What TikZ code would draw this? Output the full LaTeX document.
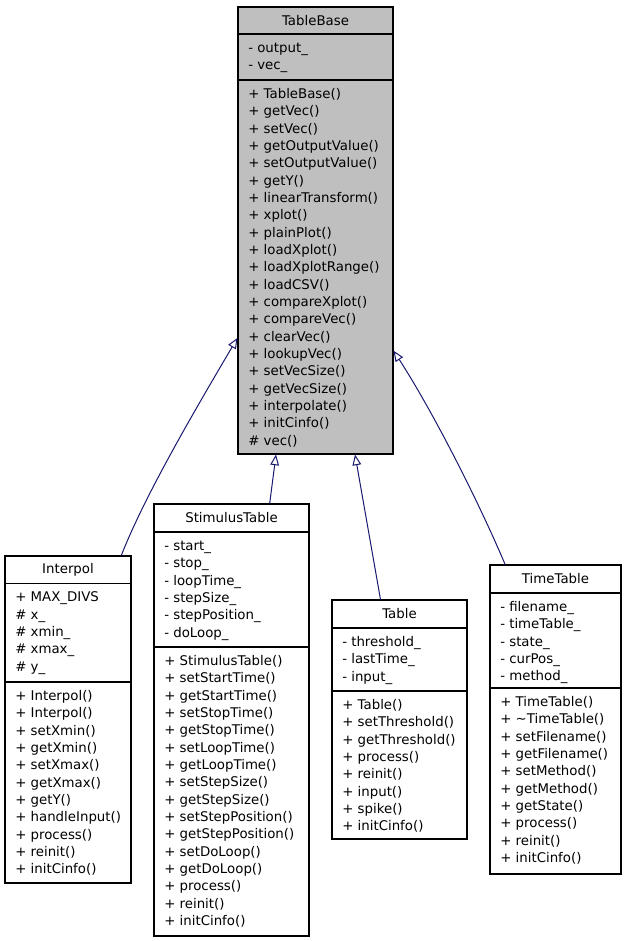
\documentclass[tikz,border=0pt]{standalone}
\usepackage{fontspec}
\setmainfont{DejaVu Sans}
\usetikzlibrary{arrows.meta,fit}

\definecolor{edgeblue}{HTML}{191970}
\definecolor{basegray}{HTML}{BFBFBF}

\tikzset{
  classbox/.style={draw=black, line width=0.8pt, inner sep=0pt},
  classname/.style={inner sep=0pt, font=\fontsize{10}{13}\selectfont},
  % member lists are placed by the baseline of their last line
  members/.style={anchor=base west, inner sep=0pt, align=left, font=\fontsize{10}{13}\selectfont},
  inherit/.style={draw=edgeblue, line width=0.75pt, -{Triangle[open,length=8pt,width=6.5pt]}},
}

\begin{document}
\begin{tikzpicture}[x=0.75pt,y=0.75pt,yscale=-1,xscale=1]
\useasboundingbox (0,0) rectangle (627,941);

% TableBase
\node[classbox, fill=basegray, fit={(238,7) (393,454)}] (tablebase) {};
\draw[line width=0.8pt] (238,34) -- (393,34);
\draw[line width=0.8pt] (238,80) -- (393,80);
\node[classname] (tablebaseName) at (315.5,20.5) {TableBase};
\node[members] (tablebaseAttr) at (248,69.8) {- output\_\\- vec\_};
\node[members] (tablebaseOps) at (248,445.2) {+ TableBase()\\+ getVec()\\+ setVec()\\+ getOutputValue()\\+ setOutputValue()\\+ getY()\\+ linearTransform()\\+ xplot()\\+ plainPlot()\\+ loadXplot()\\+ loadXplotRange()\\+ loadCSV()\\+ compareXplot()\\+ compareVec()\\+ clearVec()\\+ lookupVec()\\+ setVecSize()\\+ getVecSize()\\+ interpolate()\\+ initCinfo()\\\# vec()};

% Interpol
\node[classbox, fit={(5,556) (131,883)}] (interpol) {};
\draw[line width=0.8pt] (5,583.5) -- (131,583.5);
\draw[line width=0.8pt] (5,682) -- (131,682);
\node[classname] (interpolName) at (68,569.5) {Interpol};
\node[members] (interpolAttr) at (15,671.3) {+ MAX\_DIVS\\\# x\_\\\# xmin\_\\\# xmax\_\\\# y\_};
\node[members] (interpolOps) at (15,873.8) {+ Interpol()\\+ Interpol()\\+ setXmin()\\+ getXmin()\\+ setXmax()\\+ getXmax()\\+ getY()\\+ handleInput()\\+ process()\\+ reinit()\\+ initCinfo()};

% StimulusTable
\node[classbox, fit={(154,504) (309,936)}] (stimulustable) {};
\draw[line width=0.8pt] (154,532) -- (309,532);
\draw[line width=0.8pt] (154,647) -- (309,647);
\node[classname] (stimulustableName) at (231.5,518) {StimulusTable};
\node[members] (stimulustableAttr) at (164,637.2) {- start\_\\- stop\_\\- loopTime\_\\- stepSize\_\\- stepPosition\_\\- doLoop\_};
\node[members] (stimulustableOps) at (164,925.5) {+ StimulusTable()\\+ setStartTime()\\+ getStartTime()\\+ setStopTime()\\+ getStopTime()\\+ setLoopTime()\\+ getLoopTime()\\+ setStepSize()\\+ getStepSize()\\+ setStepPosition()\\+ getStepPosition()\\+ setDoLoop()\\+ getDoLoop()\\+ process()\\+ reinit()\\+ initCinfo()};

% Table
\node[classbox, fit={(332,600) (467,839)}] (table) {};
\draw[line width=0.8pt] (332,628) -- (467,628);
\draw[line width=0.8pt] (332,691) -- (467,691);
\node[classname] (tableName) at (399.5,614) {Table};
\node[members] (tableAttr) at (342,681.2) {- threshold\_\\- lastTime\_\\- input\_};
\node[members] (tableOps) at (342,830.8) {+ Table()\\+ setThreshold()\\+ getThreshold()\\+ process()\\+ reinit()\\+ input()\\+ spike()\\+ initCinfo()};

% TimeTable
\node[classbox, fit={(490,565) (621,874)}] (timetable) {};
\draw[line width=0.8pt] (490,593) -- (621,593);
\draw[line width=0.8pt] (490,688) -- (621,688);
\node[classname] (timetableName) at (555.5,579) {TimeTable};
\node[members] (timetableAttr) at (500,680.8) {- filename\_\\- timeTable\_\\- state\_\\- curPos\_\\- method\_};
\node[members] (timetableOps) at (500,862.5) {+ TimeTable()\\+ \textasciitilde TimeTable()\\+ setFilename()\\+ getFilename()\\+ setMethod()\\+ getMethod()\\+ getState()\\+ process()\\+ reinit()\\+ initCinfo()};

% inheritance
\draw[inherit] (interpol.72.36) .. controls (145,495) and (195,410) .. (tablebase.234.7);
\draw[inherit] (stimulustable.80.15) -- (tablebase.260);
\draw[inherit] (table.99.73) -- (tablebase.280.4);
\draw[inherit] (timetable.108.43) .. controls (480,505) and (435,415) .. (tablebase.303.4);

\end{tikzpicture}
\end{document}
